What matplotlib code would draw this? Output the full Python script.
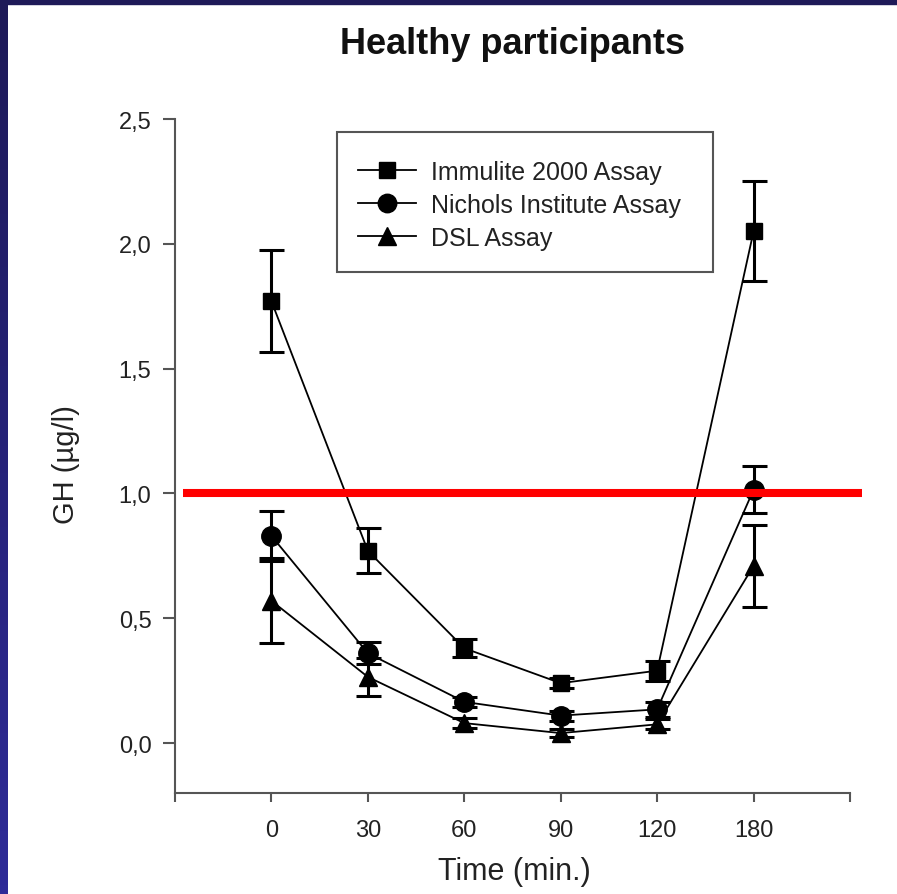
import numpy as np
import matplotlib
matplotlib.use("Agg")
import matplotlib.pyplot as plt
from matplotlib.patches import Rectangle
from matplotlib.colors import LinearSegmentedColormap

plt.rcParams['font.family'] = ['Liberation Sans', 'DejaVu Sans']

# ---- data ----
times = ['0', '30', '60', '90', '120', '180']
immulite = [1.77, 0.77, 0.38, 0.24, 0.29, 2.05]
immulite_err = [0.205, 0.09, 0.035, 0.02, 0.04, 0.2]
nichols = [0.83, 0.36, 0.165, 0.11, 0.135, 1.015]
nichols_err = [0.1, 0.045, 0.02, 0.02, 0.03, 0.095]
dsl = [0.57, 0.265, 0.08, 0.04, 0.075, 0.71]
dsl_err = [0.17, 0.075, 0.02, 0.015, 0.02, 0.165]
series_names = ['Immulite 2000 Assay', 'Nichols Institute Assay', 'DSL Assay']
threshold = 1.0

W, H = 897, 895
fig = plt.figure(figsize=(W / 100, H / 100), dpi=100)
fig.patch.set_facecolor('white')

# frame strips (slide background)
cmap = LinearSegmentedColormap.from_list('b', ['#1e1a58', '#2e2b98'])
bax = fig.add_axes([0, 0, 8 / W, 1])
bax.imshow(np.linspace(0, 1, 100).reshape(-1, 1), aspect='auto', cmap=cmap)
bax.axis('off')
fig.patches.append(Rectangle((0, 1 - 5 / H), 1, 5 / H, transform=fig.transFigure,
                             color='#1e1a58', zorder=5))

ax = fig.add_axes([175 / W, 101 / H, 675 / W, 674 / H])
x = np.arange(len(times))

specs = [(immulite, immulite_err, 's', 12), (nichols, nichols_err, 'o', 14), (dsl, dsl_err, '^', 13)]
handles = []
for (vals, errs, mk, ms), name in zip(specs, series_names):
    ax.errorbar(x, vals, yerr=errs, fmt='none', ecolor='black', elinewidth=2.2,
                capsize=9, capthick=2.2, zorder=3)
    h, = ax.plot(x, vals, color='black', lw=1.3, marker=mk, ms=ms,
                 markerfacecolor='black', markeredgecolor='black', zorder=4, label=name)
    handles.append(h)

ax.plot([-0.917, 6.124], [threshold, threshold], color='#ff0000', lw=5.8,
        solid_capstyle='butt', clip_on=False, zorder=6)

ax.set_xlim(-1, 6)
ax.set_ylim(-0.2, 2.5)
ax.set_xticks(np.arange(-1, 7))
ax.set_xticklabels([''] + times + [''])
yt = [0.0, 0.5, 1.0, 1.5, 2.0, 2.5]
ax.set_yticks(yt)
ax.set_yticklabels([f'{v:.1f}'.replace('.', ',') for v in yt])

for s in ['top', 'right']:
    ax.spines[s].set_visible(False)
for s in ['left', 'bottom']:
    ax.spines[s].set_color('#555555')
    ax.spines[s].set_linewidth(1.5)
ax.tick_params(axis='y', direction='out', length=9, width=1.5, color='#555555',
               labelsize=17, labelcolor='#222222', pad=8)
ax.tick_params(axis='x', direction='out', length=6.5, width=1.5, color='#555555',
               labelsize=17, labelcolor='#222222', pad=12)

# legend frame and entries
ax.add_patch(Rectangle(((337 - 175) / 675, (794 - 273) / 674), (713 - 337) / 675,
                       (273 - 133) / 674, transform=ax.transAxes, fill=False,
                       edgecolor='#555555', lw=1.5, zorder=7))
leg = ax.legend(handles=handles, loc='upper left',
                bbox_to_anchor=((358 - 175) / 675, (794 - 161) / 674),
                frameon=False, fontsize=18, handlelength=2.3, handletextpad=0.6,
                labelspacing=0.36, borderpad=0, borderaxespad=0, markerscale=0.95)
for t in leg.get_texts():
    t.set_color('#222222')

fig.text(513 / W, 1 - 45 / H, 'Healthy participants', fontsize=26, fontweight='bold',
         ha='center', va='center', color='#111111')
fig.text(514 / W, 1 - 872 / H, 'Time (min.)', fontsize=22, ha='center', va='center',
         color='#222222')
fig.text(66 / W, 1 - 465 / H, 'GH (µg/l)', fontsize=21, ha='center', va='center',
         rotation=90, color='#222222')

fig.savefig('out.png', dpi=100)
